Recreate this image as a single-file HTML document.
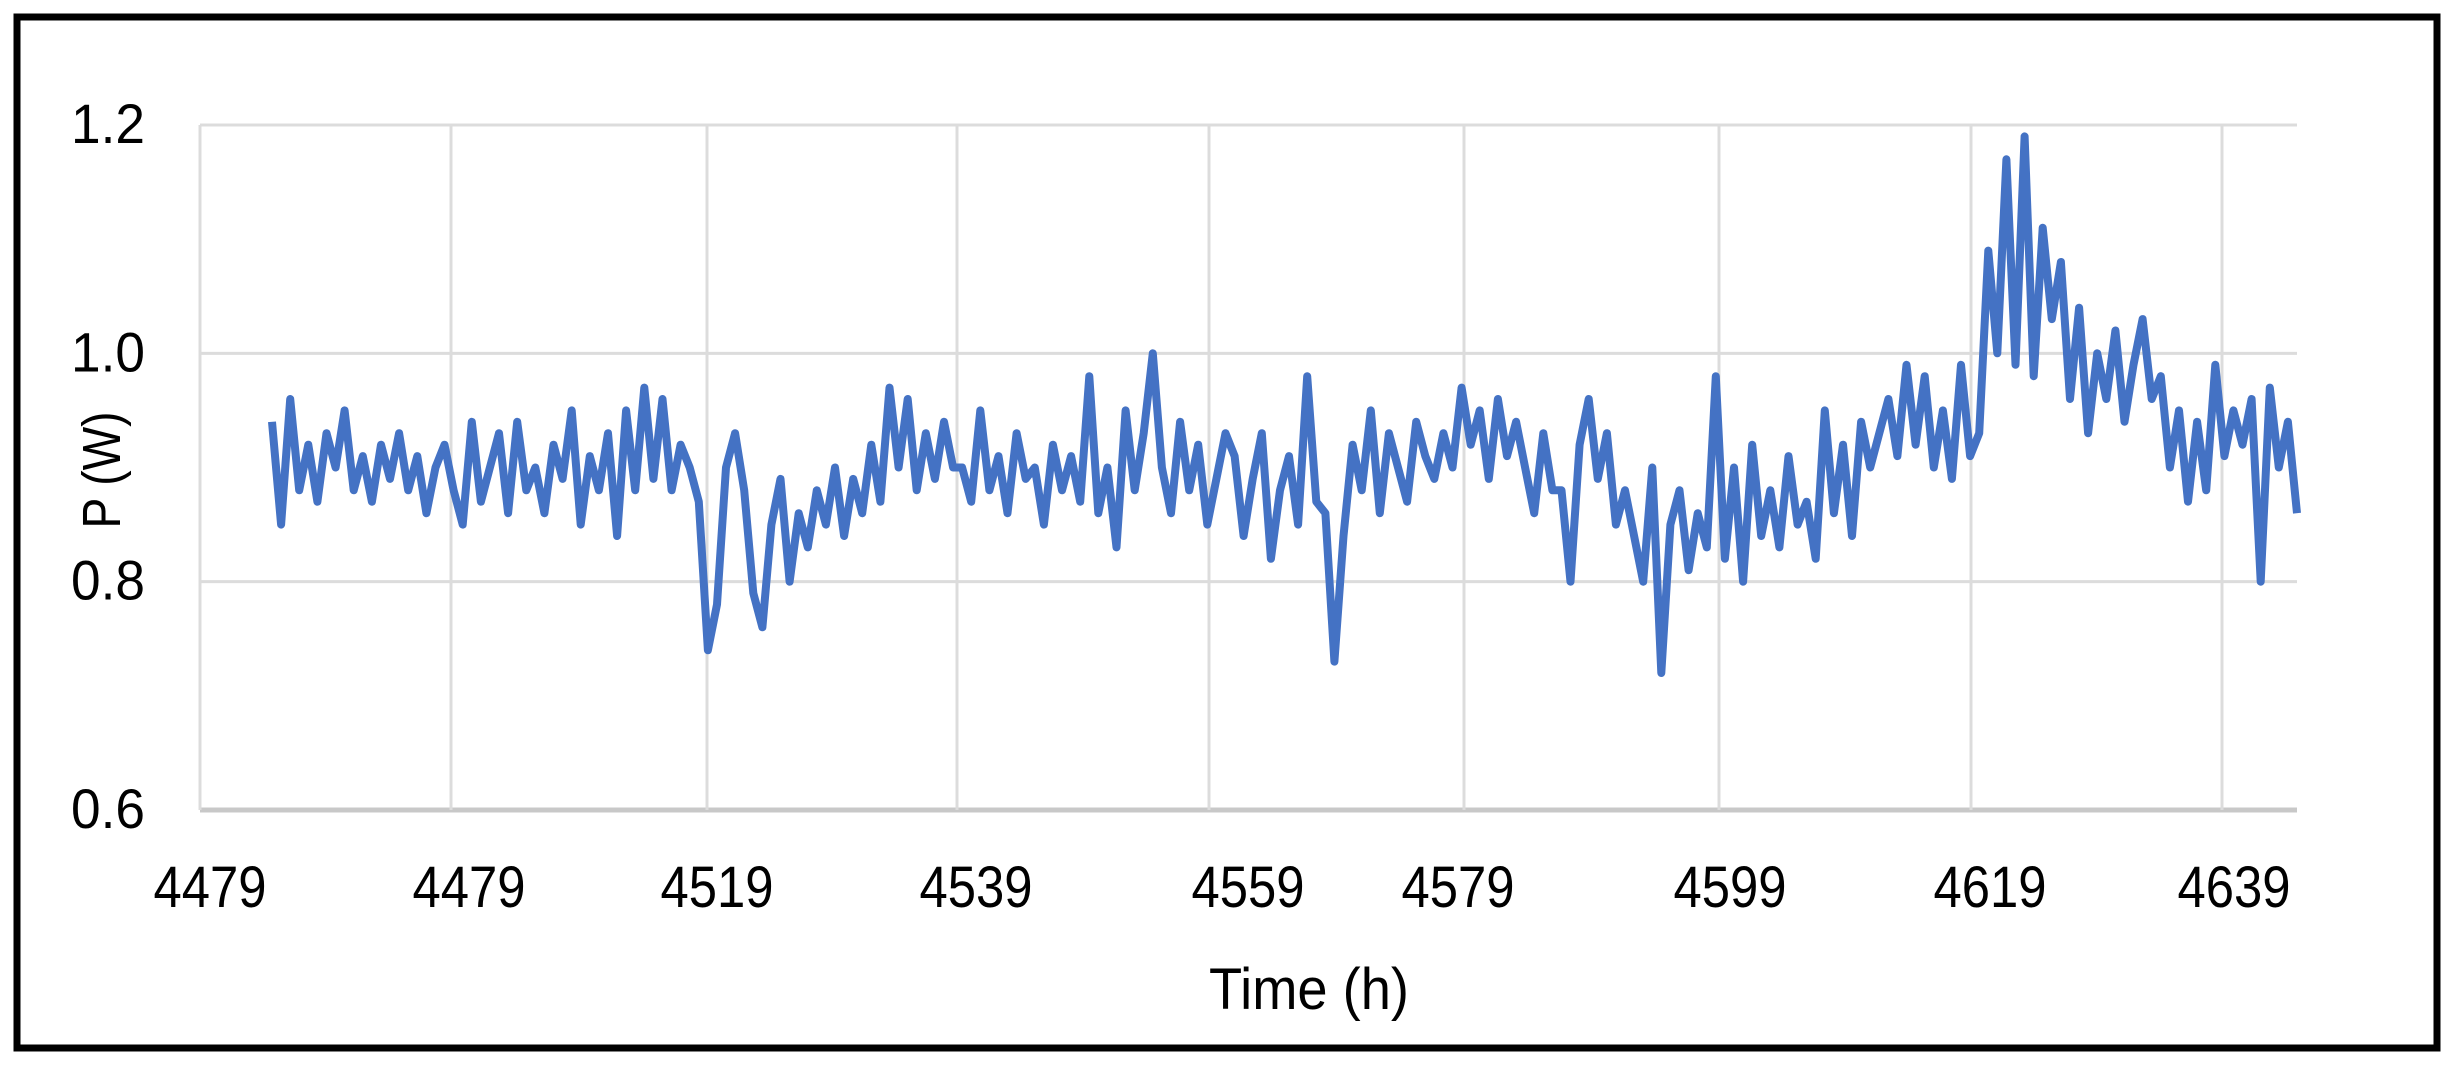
<!DOCTYPE html>
<html><head><meta charset="utf-8"><style>
html,body{margin:0;padding:0;background:#fff;}
svg{display:block;}
text{font-family:"Liberation Sans Narrow","Liberation Sans",sans-serif;fill:#000;}
</style></head><body>
<svg id="chart" width="2453" height="1074" viewBox="0 0 2453 1074">
<rect x="17" y="17" width="2420" height="1031" fill="#fff" stroke="#000" stroke-width="7"/>
<g id="grid"></g>
<g id="ylabels"></g>
<g id="xlabels"></g>
<path id="series" fill="none" stroke="#4472C4" stroke-width="8" stroke-linejoin="round"/>
<text x="1309" y="1009" font-size="58" text-anchor="middle" textLength="200" lengthAdjust="spacingAndGlyphs">Time (h)</text>
<text transform="translate(120,470) rotate(-90)" font-size="54" text-anchor="middle" textLength="117" lengthAdjust="spacingAndGlyphs">P (W)</text>
</svg>
<script>
const yTicks = [0.6, 0.8, 1.0, 1.2];
const yTickLabels = ["0.6", "0.8", "1.0", "1.2"];
const xTickLabels = ["4479", "4479", "4519", "4539", "4559", "4579", "4599", "4619", "4639"];
const xTickCenters = [210, 469, 717, 976, 1248, 1458, 1730, 1990, 2234];
const xGridCenters = [451, 707, 957, 1209, 1464, 1719, 1971, 2222];
const power = [
0.94,0.85,0.96,0.88,0.92,0.87,0.93,0.90,0.95,0.88,
0.91,0.87,0.92,0.89,0.93,0.88,0.91,0.86,0.90,0.92,0.88,0.85,0.94,0.87,0.90,0.93,0.86,
0.94,0.88,0.90,0.86,0.92,0.89,0.95,0.85,0.91,0.88,0.93,0.84,0.95,0.88,0.97,0.89,0.96,0.88,0.92,0.90,
0.87,0.74,0.78,0.90,0.93,0.88,0.79,0.76,0.85,0.89,0.80,0.86,0.83,
0.88,0.85,0.90,0.84,0.89,0.86,0.92,0.87,0.97,0.90,0.96,0.88,0.93,0.89,0.94,0.90,0.90,
0.87,0.95,0.88,0.91,0.86,0.93,0.89,0.90,0.85,0.92,0.88,0.91,0.87,0.98,0.86,0.90,0.83,0.95,0.88,0.93,1.00,
0.90,0.86,0.94,0.88,0.92,0.85,0.89,0.93,0.91,0.84,0.89,0.93,0.82,0.88,0.91,0.85,0.98,0.87,0.86,0.73,0.84,0.92,0.88,0.95,0.86,0.93,0.90,
0.87,0.94,0.91,0.89,0.93,0.90,0.97,0.92,0.95,0.89,0.96,0.91,0.94,0.90,0.86,0.93,0.88,0.88,0.80,0.92,0.96,0.89,0.93,
0.85,0.88,0.84,0.80,0.90,0.72,0.85,0.88,0.81,0.86,0.83,0.98,0.82,0.90,0.80,0.92,0.84,0.88,0.83,0.91,0.85,0.87,0.82,
0.95,0.86,0.92,0.84,0.94,0.90,0.93,0.96,0.91,0.99,0.92,0.98,0.90,0.95,0.89,0.99,0.91,
0.93,1.09,1.00,1.17,0.99,1.19,0.98,1.11,1.03,1.08,0.96,1.04,0.93,1.00,0.96,1.02,
0.94,0.99,1.03,0.96,0.98,0.90,0.95,0.87,0.94,0.88,0.99,0.91,0.95,0.92,0.96,0.80,0.97,0.90,0.94,0.86
];
const NS = "http://www.w3.org/2000/svg";
const L = 200, R = 2297, T = 125, B = 810;
const yScale = v => B - (v - 0.6) / 0.6 * (B - T);
const lineL = 272;
const xScale = i => lineL + i * (R - lineL) / (power.length - 1);
const grid = document.getElementById('grid');
yTicks.forEach((v, i) => {
  const ln = document.createElementNS(NS, 'line');
  ln.setAttribute('x1', L); ln.setAttribute('x2', R);
  ln.setAttribute('y1', yScale(v)); ln.setAttribute('y2', yScale(v));
  ln.setAttribute('stroke', i === 0 ? '#c8c8c8' : '#dcdcdc');
  ln.setAttribute('stroke-width', i === 0 ? 5 : 3);
  
  
  grid.appendChild(ln);
  const t = document.createElementNS(NS, 'text');
  t.setAttribute('x', 108); t.setAttribute('y', yScale(v) + 18);
  t.setAttribute('font-size', '56'); t.setAttribute('text-anchor', 'middle');
  t.setAttribute('textLength', '74'); t.setAttribute('lengthAdjust', 'spacingAndGlyphs');
  t.textContent = yTickLabels[i];
  
  
  document.getElementById('ylabels').appendChild(t);
});
const yl = document.createElementNS(NS, 'line');
yl.setAttribute('x1', L); yl.setAttribute('x2', L); yl.setAttribute('y1', T); yl.setAttribute('y2', B);
yl.setAttribute('stroke', '#dcdcdc'); yl.setAttribute('stroke-width', 3);


grid.appendChild(yl);
xGridCenters.forEach(x => {
  const ln = document.createElementNS(NS, 'line');
  ln.setAttribute('x1', x); ln.setAttribute('x2', x);
  ln.setAttribute('y1', T); ln.setAttribute('y2', B);
  ln.setAttribute('stroke', '#dcdcdc'); ln.setAttribute('stroke-width', 3);
  
  
  grid.appendChild(ln);
});
xTickLabels.forEach((s, i) => {
  const t = document.createElementNS(NS, 'text');
  t.setAttribute('x', xTickCenters[i]); t.setAttribute('y', 907);
  t.setAttribute('font-size', '58'); t.setAttribute('text-anchor', 'middle');
  t.setAttribute('textLength', '113'); t.setAttribute('lengthAdjust', 'spacingAndGlyphs');
  t.textContent = s;
  
  
  document.getElementById('xlabels').appendChild(t);
});
document.getElementById('series').setAttribute('d',
  power.map((v, i) => (i ? 'L' : 'M') + xScale(i).toFixed(1) + ',' + yScale(v).toFixed(1)).join(''));
</script>
</body></html>
